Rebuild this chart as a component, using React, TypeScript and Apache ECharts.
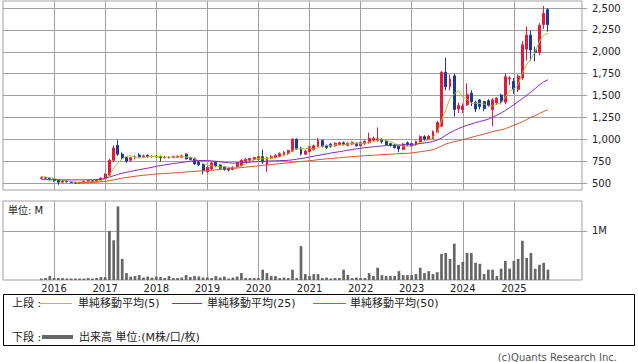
import React, { useEffect, useRef } from "react";
import * as echarts from "echarts";

const axisStartMonth = "2015-01";
const axisEndMonth = "2026-05";
const firstDataMonth = "2015-10";
const yearGridMonths = ["2016-01", "2017-01", "2018-01", "2019-01", "2020-01", "2021-01", "2022-01", "2023-01", "2024-01", "2025-01"];

const opens = [
  555, 562, 555, 545, 530, 510, 520, 512, 505, 500,
  505, 520, 525, 515, 535, 555, 590, 760, 930, 830,
  790, 760, 785, 820, 800, 815, 800, 805, 800, 790,
  795, 790, 795, 795, 830, 790, 780, 740, 710, 630,
  660, 735, 705, 685, 668, 655, 690, 700, 750, 760,
  770, 770, 800, 710, 785, 790, 805, 820, 835, 865,
  1000, 900, 830, 860, 880, 920, 985, 925, 945, 925,
  940, 960, 930, 945, 955, 925, 950, 960, 990, 985,
  1000, 975, 950, 935, 920, 885, 960, 950, 935, 970,
  1030, 1000, 1010, 1080, 1150, 1765, 1600, 1725, 1345, 1340,
  1395, 1525, 1420, 1450, 1430, 1440, 1340, 1415, 1505, 1425,
  1690, 1660, 1570, 1700, 2030, 2190, 2020, 1990, 2310, 2480,
];
const closes = [
  560, 555, 545, 530, 510, 520, 512, 505, 500, 505,
  520, 525, 515, 535, 555, 600, 760, 900, 830, 790,
  750, 790, 800, 800, 810, 800, 805, 800, 790, 795,
  790, 800, 805, 810, 775, 770, 720, 710, 640, 680,
  730, 695, 670, 655, 650, 680, 730, 760, 770, 780,
  790, 800, 740, 790, 800, 815, 835, 850, 870, 1000,
  895, 830, 865, 915, 925, 985, 920, 905, 920, 955,
  960, 940, 955, 965, 925, 960, 975, 1010, 1010, 1005,
  975, 940, 930, 905, 890, 945, 935, 925, 975, 1030,
  1000, 1035, 1090, 1190, 1765, 1600, 1690, 1340, 1385, 1380,
  1510, 1430, 1345, 1375, 1350, 1385, 1450, 1470, 1430, 1715,
  1700, 1570, 1720, 2080, 2190, 2020, 1990, 2300, 2440, 2310,
];
const lows = [
  545, 545, 530, 515, 480, 500, 505, 498, 490, 495,
  500, 512, 508, 510, 530, 550, 580, 740, 810, 770,
  730, 745, 770, 790, 790, 790, 790, 790, 745, 780,
  780, 785, 788, 785, 770, 760, 705, 695, 600, 615,
  650, 680, 660, 640, 630, 645, 680, 690, 740, 750,
  760, 760, 720, 625, 770, 780, 795, 810, 820, 855,
  880, 815, 820, 850, 870, 910, 905, 890, 905, 915,
  930, 930, 920, 935, 915, 915, 935, 950, 975, 970,
  950, 925, 915, 895, 850, 875, 920, 910, 925, 960,
  985, 990, 1000, 1070, 1140, 1560, 1560, 1260, 1300, 1300,
  1380, 1380, 1310, 1340, 1320, 1370, 1150, 1390, 1400, 1400,
  1620, 1520, 1540, 1680, 1900, 1900, 1890, 1960, 2260, 2230,
];
const highs = [
  575, 570, 560, 555, 535, 530, 530, 520, 515, 512,
  528, 535, 530, 545, 565, 610, 775, 930, 990, 850,
  800, 800, 815, 840, 825, 830, 815, 820, 815, 810,
  805, 815, 815, 825, 840, 800, 790, 750, 720, 690,
  745, 745, 715, 695, 680, 690, 740, 770, 785, 790,
  800, 810, 880, 800, 820, 830, 850, 865, 880, 1010,
  1010, 915, 880, 925, 940, 1015, 995, 940, 955, 965,
  970, 975, 965, 975, 965, 970, 990, 1075, 1030, 1135,
  1010, 990, 960, 945, 930, 955, 975, 960, 985, 1045,
  1045, 1050, 1100, 1210, 1780, 1930, 1740, 1750, 1420, 1410,
  1640, 1560, 1440, 1460, 1440, 1460, 1470, 1480, 1520, 1750,
  1720, 1700, 1740, 2120, 2290, 2240, 2060, 2330, 2525, 2500,
];
const ma5 = [
  575, 568, 560, 552, 540, 532, 523, 515, 509, 508,
  508, 511, 513, 520, 530, 546, 593, 670, 729, 776,
  806, 812, 792, 786, 790, 800, 803, 803, 801, 798,
  796, 795, 796, 800, 796, 792, 776, 757, 723, 704,
  696, 691, 683, 686, 680, 670, 677, 695, 718, 744,
  766, 780, 776, 780, 784, 789, 796, 818, 834, 874,
  890, 889, 892, 901, 886, 904, 922, 930, 931, 937,
  932, 936, 946, 955, 949, 948, 955, 966, 975, 991,
  995, 988, 972, 951, 928, 922, 921, 920, 934, 962,
  973, 993, 1026, 1069, 1216, 1336, 1467, 1517, 1556, 1479,
  1463, 1411, 1412, 1409, 1403, 1379, 1379, 1402, 1412, 1486,
  1546, 1574, 1626, 1758, 1852, 1916, 2000, 2116, 2188, 2212,
];
const ma25 = [
  538, 538, 537, 537, 537, 536, 536, 536, 536, 536,
  536, 537, 537, 538, 541, 555, 568, 583, 598, 612,
  622, 632, 643, 652, 661, 670, 680, 690, 699, 707,
  715, 722, 728, 735, 742, 750, 755, 757, 757, 756,
  753, 748, 742, 736, 731, 728, 729, 731, 734, 738,
  742, 746, 748, 750, 752, 754, 756, 757, 759, 765,
  772, 779, 787, 797, 806, 815, 824, 833, 842, 850,
  858, 866, 874, 882, 890, 897, 903, 909, 914, 919,
  923, 927, 930, 932, 934, 936, 938, 940, 945, 951,
  957, 964, 975, 990, 1015, 1045, 1075, 1100, 1122, 1142,
  1160, 1175, 1190, 1203, 1215, 1230, 1250, 1275, 1300, 1330,
  1362, 1395, 1430, 1465, 1500, 1540, 1580, 1620, 1655, 1680,
];
const ma50 = [
  null, null, null, null, null, null, null, null, 500, 501,
  503, 505, 507, 510, 514, 520, 527, 536, 546, 556,
  563, 570, 577, 583, 588, 593, 598, 603, 606, 609,
  612, 615, 619, 622, 626, 629, 633, 636, 639, 642,
  646, 650, 654, 658, 662, 666, 671, 676, 681, 686,
  691, 696, 701, 706, 711, 716, 721, 726, 731, 737,
  742, 746, 750, 755, 760, 766, 771, 776, 780, 785,
  789, 793, 797, 800, 804, 808, 811, 814, 817, 820,
  823, 826, 829, 832, 835, 837, 840, 843, 850, 857,
  864, 872, 880, 900, 922, 945, 960, 972, 984, 995,
  1008, 1021, 1034, 1047, 1060, 1073, 1088, 1098, 1108, 1120,
  1140, 1160, 1180, 1200, 1225, 1250, 1270, 1295, 1318, 1338,
];
const volumes = [
  0.03, 0.04, 0.08, 0.04, 0.04, 0.04, 0.03, 0.03, 0.03, 0.03,
  0.03, 0.04, 0.03, 0.04, 0.06, 0.06, 1.0, 0.81, 1.5, 0.43,
  0.14, 0.07, 0.08, 0.1, 0.05, 0.07, 0.05, 0.07, 0.06, 0.04,
  0.08, 0.04, 0.04, 0.05, 0.1, 0.06, 0.08, 0.07, 0.05, 0.05,
  0.04, 0.08, 0.05, 0.07, 0.03, 0.05, 0.07, 0.14, 0.04, 0.04,
  0.04, 0.04, 0.21, 0.14, 0.08, 0.08, 0.04, 0.05, 0.04, 0.21,
  0.04, 0.69, 0.12, 0.08, 0.12, 0.12, 0.04, 0.05, 0.03, 0.04,
  0.04, 0.21, 0.1, 0.04, 0.05, 0.04, 0.04, 0.14, 0.08, 0.25,
  0.1, 0.08, 0.08, 0.08, 0.18, 0.1, 0.1, 0.1, 0.12, 0.25,
  0.14, 0.18, 0.12, 0.16, 0.53, 0.55, 0.43, 0.74, 0.31, 0.37,
  0.55, 0.55, 0.35, 0.33, 0.12, 0.21, 0.21, 0.08, 0.23, 0.39,
  0.23, 0.39, 0.43, 0.8, 0.45, 0.55, 0.23, 0.31, 0.35, 0.21,
];

const priceTicks = [500, 750, 1000, 1250, 1500, 1750, 2000, 2250, 2500];
const volumeTicks = [1];
const priceRange = [420, 2580];
const volumeRange = [0, 1.61];

const legendUpper = "上段 :";
const legendLower = "下段 :";
const maLabels = ["単純移動平均(5)", "単純移動平均(25)", "単純移動平均(50)"];
const volumeLabel = "出来高 単位:(M株/口/枚)";
const volumeUnit = "単位: M";
const copyright = "(c)Quants Research Inc.";

const UP = "#e8173c";
const DOWN = "#1b3a93";
const MA_COLORS = ["#b4c236", "#8a26c4", "#d9552b"];
const VOL = "#666666";
const GRIDC = "#a0a0a0";
const FONT = "'DejaVu Sans', 'Noto Sans CJK JP', sans-serif";

function buildMonths(start: string, end: string): string[] {
  const out: string[] = [];
  let y = parseInt(start.slice(0, 4), 10);
  let m = parseInt(start.slice(5, 7), 10);
  const ey = parseInt(end.slice(0, 4), 10);
  const em = parseInt(end.slice(5, 7), 10);
  while (y < ey || (y === ey && m <= em)) {
    out.push(`${y}-${m < 10 ? "0" + m : m}`);
    m++;
    if (m > 12) { m = 1; y++; }
  }
  return out;
}

// evenly spaced category steps covering a value range (used only to place grid lines)
function buildSteps(range: number[], step: number): number[] {
  const out: number[] = [];
  const n = Math.round((range[1] - range[0]) / step);
  for (let i = 0; i <= n; i++) out.push(Math.round((range[0] + i * step) * 1000) / 1000);
  return out;
}

export default function App() {
  const ref = useRef<HTMLDivElement>(null);
  useEffect(() => {
    if (!ref.current) return;
    const chart = echarts.init(ref.current, undefined, { renderer: "svg" });
    const months = buildMonths(axisStartMonth, axisEndMonth);
    const start = months.indexOf(firstDataMonth);
    const at = (i: number) => i - start;
    const inRange = (k: number) => k >= 0 && k < opens.length;
    const candles = months.map((_, i) => {
      const k = at(i);
      return inRange(k) ? [opens[k], closes[k], lows[k], highs[k]] : ["-", "-", "-", "-"];
    });
    const pick = (arr: (number | null)[]) =>
      months.map((_, i) => {
        const k = at(i);
        return inRange(k) && arr[k] != null ? arr[k] : "-";
      });
    const isYear = (_i: number, v: string) => yearGridMonths.indexOf(v) >= 0;

    const priceSteps = buildSteps(priceRange, 10);
    const volumeSteps = buildSteps(volumeRange, 0.01);

    const xBase = {
      type: "category" as const,
      data: months,
      boundaryGap: false,
      axisLine: { show: false },
      axisTick: { show: false },
      splitLine: { show: true, interval: isYear, lineStyle: { color: GRIDC, width: 1 } },
    };
    const yLabel = { color: "#222", fontSize: 10, fontFamily: FONT, margin: 10 };

    // hidden category y axes whose split lines give the horizontal grid lines
    const gridAxis = (gi: number, steps: number[], ticks: number[]) => ({
      type: "category",
      gridIndex: gi,
      data: steps.map(String),
      boundaryGap: false,
      position: "left",
      axisLine: { show: false },
      axisTick: { show: false },
      axisLabel: { show: false },
      splitArea: { show: false },
      splitLine: {
        show: true,
        interval: (_i: number, v: string) => ticks.indexOf(Number(v)) >= 0,
        lineStyle: { color: GRIDC, width: 1 },
      },
    });

    chart.setOption({
      animation: false,
      backgroundColor: "#ffffff",
      grid: [
        { left: 3, top: 1, width: 579, height: 189, show: true, backgroundColor: "transparent", borderColor: GRIDC, borderWidth: 1, outerBoundsMode: "none", containLabel: false },
        { left: 3, top: 201, width: 579, height: 79, show: true, backgroundColor: "transparent", borderColor: GRIDC, borderWidth: 1, outerBoundsMode: "none", containLabel: false },
      ],
      xAxis: [
        { ...xBase, gridIndex: 0, axisLabel: { show: false } },
        {
          ...xBase,
          gridIndex: 1,
          axisLabel: {
            show: true,
            interval: isYear,
            formatter: (v: string) => v.slice(0, 4),
            color: "#222",
            fontSize: 10,
            fontFamily: FONT,
            margin: 3,
          },
        },
      ],
      yAxis: [
        {
          type: "value",
          gridIndex: 0,
          position: "right",
          min: priceRange[0],
          max: priceRange[1],
          axisLine: { show: false },
          axisTick: { show: true, customValues: priceTicks, length: 5, lineStyle: { color: GRIDC } },
          axisLabel: { ...yLabel, customValues: priceTicks, formatter: (v: number) => v.toLocaleString("en-US") },
          splitLine: { show: false },
        },
        {
          type: "value",
          gridIndex: 1,
          position: "right",
          min: volumeRange[0],
          max: volumeRange[1],
          axisLine: { show: false },
          axisTick: { show: true, customValues: volumeTicks, length: 5, lineStyle: { color: GRIDC } },
          axisLabel: { ...yLabel, customValues: volumeTicks, formatter: (v: number) => v + "M" },
          splitLine: { show: false },
        },
        gridAxis(0, priceSteps, priceTicks),
        gridAxis(1, volumeSteps, volumeTicks),
      ],
      series: [
        {
          type: "candlestick",
          xAxisIndex: 0,
          yAxisIndex: 0,
          data: candles,
          barWidth: 2.4,
          z: 3,
          itemStyle: { color: UP, color0: DOWN, borderColor: UP, borderColor0: DOWN, borderWidth: 1 },
        },
        ...[ma5, ma25, ma50].map((arr, j) => ({
          type: "line",
          xAxisIndex: 0,
          yAxisIndex: 0,
          data: pick(arr),
          showSymbol: false,
          symbol: "none",
          z: 4,
          lineStyle: { color: MA_COLORS[j], width: 1 },
        })),
        {
          type: "bar",
          xAxisIndex: 1,
          yAxisIndex: 1,
          data: pick(volumes),
          barWidth: 2.7,
          z: 3,
          itemStyle: { color: VOL },
        },
      ],
      graphic: [
        { type: "text", left: 8, top: 205, style: { text: volumeUnit, fontSize: 10, fontFamily: FONT, fill: "#222" } },
        { type: "rect", shape: { x: 3.5, y: 294.5, width: 631, height: 51 }, style: { fill: "#fff", stroke: "#000", lineWidth: 1 } },
        { type: "text", x: 12, y: 303, style: { text: legendUpper, fontSize: 11, fontFamily: FONT, fill: "#222", verticalAlign: "middle" } },
        { type: "line", shape: { x1: 40, y1: 303.5, x2: 72, y2: 303.5 }, style: { stroke: MA_COLORS[0], lineWidth: 1 } },
        { type: "text", x: 78, y: 303, style: { text: maLabels[0], fontSize: 11, fontFamily: FONT, fill: "#222", verticalAlign: "middle" } },
        { type: "line", shape: { x1: 172, y1: 303.5, x2: 202, y2: 303.5 }, style: { stroke: MA_COLORS[1], lineWidth: 1 } },
        { type: "text", x: 207, y: 303, style: { text: maLabels[1], fontSize: 11, fontFamily: FONT, fill: "#222", verticalAlign: "middle" } },
        { type: "line", shape: { x1: 313, y1: 303.5, x2: 346, y2: 303.5 }, style: { stroke: MA_COLORS[2], lineWidth: 1 } },
        { type: "text", x: 350, y: 303, style: { text: maLabels[2], fontSize: 11, fontFamily: FONT, fill: "#222", verticalAlign: "middle" } },
        { type: "text", x: 12, y: 337, style: { text: legendLower, fontSize: 11, fontFamily: FONT, fill: "#222", verticalAlign: "middle" } },
        { type: "line", shape: { x1: 42, y1: 337, x2: 73, y2: 337 }, style: { stroke: VOL, lineWidth: 4 } },
        { type: "text", x: 79, y: 337, style: { text: volumeLabel, fontSize: 11, fontFamily: FONT, fill: "#222", verticalAlign: "middle" } },
        { type: "text", x: 617, y: 357, style: { text: copyright, fontSize: 10, fontFamily: FONT, fill: "#555", align: "right", verticalAlign: "middle" } },
      ],
    });
    return () => chart.dispose();
  }, []);
  return (
    <div
      ref={ref}
      style={{ position: "fixed", left: 0, top: 0, width: 638, height: 362, background: "#fff" }}
    />
  );
}
